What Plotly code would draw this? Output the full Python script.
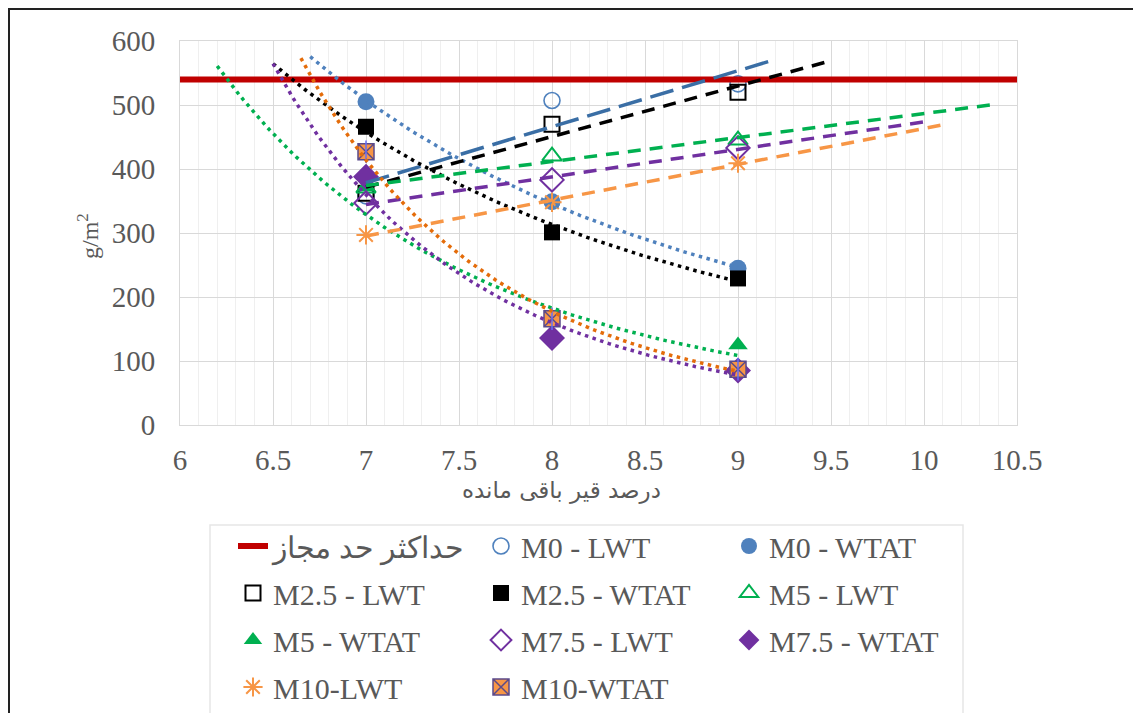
import numpy as np
import plotly.graph_objects as go

# ---------------- data ----------------
x_vals = [7, 8, 9]
m0_lwt = [358, 507, 533]
m0_wtat = [505, 349, 245]
m25_lwt = [362, 470, 520]
m25_wtat = [466, 301, 229]
m5_lwt = [370, 420, 445]
m5_wtat = [372, 140, 125]
m75_lwt = [347, 383, 433]
m75_wtat = [388, 136, 85]
m10_lwt = [297, 348, 409]
m10_wtat = [427, 166, 87]
limit_value = 540
limit_name = "حداکثر حد مجاز"

series_names = ["M0 - LWT", "M0 - WTAT", "M2.5 - LWT", "M2.5 - WTAT", "M5 - LWT",
                "M5 - WTAT", "M7.5 - LWT", "M7.5 - WTAT", "M10-LWT", "M10-WTAT"]

# trendline extents (Excel forecast forward / backward)
lwt_trend_end = [9.2, 9.5, 10.4, 10.0, 10.1]
wtat_trend_start = [6.7, 6.5, 6.2, 6.5, 6.65]

x_ticks = [6, 6.5, 7, 7.5, 8, 8.5, 9, 9.5, 10, 10.5]
y_ticks = [0, 100, 200, 300, 400, 500, 600]
x_title = "درصد قیر باقی مانده"
y_title = "g/m<sup>2</sup>"

# ---------------- styling ----------------
BLUE, BLUE_D = "#4F81BD", "#3A6EA5"
GREEN, PURPLE = "#00B050", "#7030A0"
ORANGE, ORANGE_D = "#F79646", "#E46C0A"
TXT = "#595959"
SERIF = "Liberation Serif"

lwt_data = [m0_lwt, m25_lwt, m5_lwt, m75_lwt, m10_lwt]
wtat_data = [m0_wtat, m25_wtat, m5_wtat, m75_wtat, m10_wtat]
lwt_names = series_names[0::2]
wtat_names = series_names[1::2]

lwt_markers = [
    dict(symbol="circle-open", size=16, color=BLUE, line=dict(width=1.6, color=BLUE)),
    dict(symbol="square-open", size=15, color="black", line=dict(width=2, color="black")),
    dict(symbol="triangle-up-open", size=17, color=GREEN, line=dict(width=2, color=GREEN)),
    dict(symbol="diamond-open", size=18, color=PURPLE, line=dict(width=2, color=PURPLE)),
    dict(symbol="asterisk-open", size=16, color=ORANGE, line=dict(width=2, color=ORANGE)),
]
wtat_markers = [
    dict(symbol="circle", size=17, color=BLUE),
    dict(symbol="square", size=16, color="black"),
    dict(symbol="triangle-up", size=17, color=GREEN),
    dict(symbol="diamond", size=20, color=PURPLE),
    dict(symbol="square-x", size=16, color=ORANGE, line=dict(width=1.5, color="#5B4A8A")),
]
DASH = "13px,9px"
DOT = "3.5px,4.5px"
lwt_trend_style = [dict(color=BLUE_D, width=3.5, dash="24px,9px"),
                   dict(color="black", width=3.5, dash=DASH),
                   dict(color=GREEN, width=3.5, dash=DASH),
                   dict(color=PURPLE, width=3.5, dash=DASH),
                   dict(color=ORANGE, width=3.5, dash=DASH)]
wtat_trend_style = [dict(color=BLUE, width=3.5, dash=DOT),
                    dict(color="black", width=3.5, dash=DOT),
                    dict(color=GREEN, width=3.5, dash=DOT),
                    dict(color=PURPLE, width=3.5, dash=DOT),
                    dict(color=ORANGE_D, width=3.5, dash=DOT)]

# legend rows: which legend and rank for each entry (Excel order, 3 per row)
order = [limit_name] + series_names
legend_of = {}
for i, nm in enumerate(order):
    row = i // 3
    legend_of[nm] = ("legend" if row == 0 else f"legend{row + 1}", i)

fig = go.Figure()

# markers (series order)
for k in range(5):
    for nm, ys, mk in [(lwt_names[k], lwt_data[k], lwt_markers[k]),
                       (wtat_names[k], wtat_data[k], wtat_markers[k])]:
        lg, rank = legend_of[nm]
        fig.add_trace(go.Scatter(x=x_vals, y=ys, mode="markers", name=nm, marker=mk,
                                 legend=lg, legendrank=rank, showlegend=True))
        if nm == "M10-WTAT":
            fig.add_trace(go.Scatter(x=x_vals, y=ys, mode="markers", showlegend=False,
                                     marker=dict(symbol="line-ns-open", size=16,
                                                 line=dict(width=1.5, color="#5B4A8A"))))

# limit line
lg, rank = legend_of[limit_name]
fig.add_trace(go.Scatter(x=[x_ticks[0], x_ticks[-1]], y=[limit_value, limit_value], mode="lines",
                         name=limit_name, line=dict(color="#C00000", width=6),
                         legend=lg, legendrank=rank))

# trendlines (computed from the data, like Excel)
xv = np.array(x_vals, dtype=float)
for k in range(5):
    # linear trend for LWT
    a, b = np.polyfit(xv, np.array(lwt_data[k], float), 1)
    xt = np.array([x_vals[0], lwt_trend_end[k]])
    fig.add_trace(go.Scatter(x=xt, y=a * xt + b, mode="lines", showlegend=False,
                             line=lwt_trend_style[k], hoverinfo="skip"))
    # power trend for WTAT
    p, q = np.polyfit(np.log(xv), np.log(np.array(wtat_data[k], float)), 1)
    xt = np.linspace(wtat_trend_start[k], x_vals[-1], 120)
    fig.add_trace(go.Scatter(x=xt, y=np.exp(q) * xt ** p, mode="lines", showlegend=False,
                             line=wtat_trend_style[k], hoverinfo="skip"))

# ---------------- layout ----------------
OFF = 8  # page margin of the browser
W, H = 1131, 705
L, T = 172, 33
R = W - 1009
B = H - 417
pw, ph = W - L - R, H - T - B


def sx(p):  # screen px -> paper x
    return (p - OFF - L) / pw


def sy(p):  # screen px -> paper y
    return (H - B - (p - OFF)) / ph


legend_common = dict(orientation="h", font=dict(family=SERIF, size=30, color=TXT),
                     entrywidth=203, entrywidthmode="pixels", bgcolor="rgba(0,0,0,0)",
                     xanchor="left", yanchor="middle", x=sx(233), traceorder="normal",
                     itemclick=False, itemdoubleclick=False)
row_y = [549, 596, 643, 690]
fig.update_layout(
    legend=dict(legend_common, y=sy(row_y[0] - 3)),
    legend2=dict(legend_common, y=sy(row_y[1] - 3)),
    legend3=dict(legend_common, y=sy(row_y[2] - 3)),
    legend4=dict(legend_common, y=sy(row_y[3] - 3)),
)

axis_common = dict(gridcolor="#D9D9D9", gridwidth=1.3, showline=True, linecolor="#D9D9D9",
                   mirror=True, zeroline=False, ticks="",
                   tickfont=dict(family=SERIF, size=29, color=TXT))
fig.update_xaxes(axis_common, range=[x_ticks[0], x_ticks[-1]], tickvals=x_ticks,
                 ticktext=[f"{v:g}" for v in x_ticks], ticklabelstandoff=9,
                 minor=dict(dtick=0.1, showgrid=True, gridcolor="#EFEFEF", gridwidth=1.3))
fig.update_yaxes(axis_common, range=[y_ticks[0], y_ticks[-1]], tickvals=y_ticks,
                 ticklabelstandoff=18)

fig.update_layout(
    width=W, height=H, margin=dict(l=L, r=R, t=T, b=B, autoexpand=False),
    paper_bgcolor="white", plot_bgcolor="white", showlegend=True,
    annotations=[
        dict(text=x_title, x=sx(561), y=sy(490), xref="paper", yref="paper",
             xanchor="center", yanchor="middle",
             showarrow=False, font=dict(family="DejaVu Sans", size=23, color=TXT)),
        dict(text=y_title, x=sx(88), y=sy(236), xref="paper", yref="paper",
             xanchor="center", yanchor="middle",
             showarrow=False, textangle=-90, font=dict(family=SERIF, size=24, color=TXT)),
    ],
    shapes=[
        dict(type="rect", xref="paper", yref="paper", x0=sx(210), x1=sx(963),
             y0=sy(760), y1=sy(525), line=dict(color="#E6E6E6", width=1.5), layer="below"),
        dict(type="rect", xref="paper", yref="paper", x0=sx(9), x1=sx(1138),
             y0=sy(760), y1=sy(9), line=dict(color="#222222", width=2), layer="below"),
    ],
)

fig.write_html("out.html")
